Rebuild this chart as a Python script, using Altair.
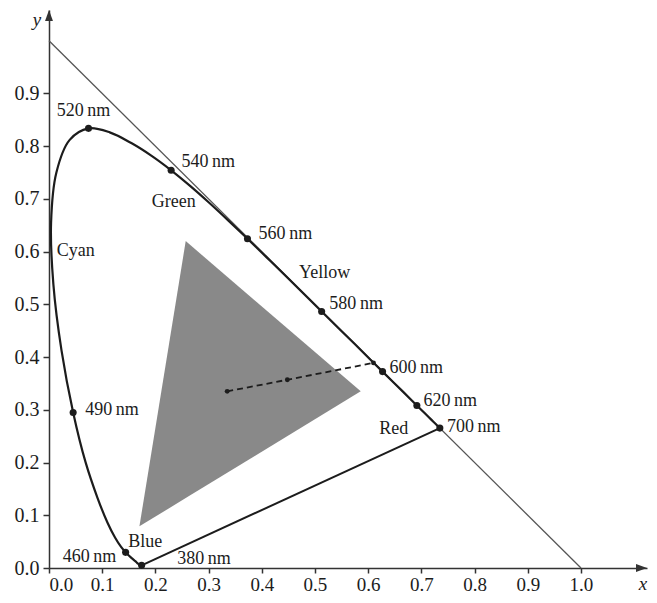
import altair as alt
import pandas as pd

# Spectral locus (wavelength nm, x, y)
wl = [380, 385, 390, 395, 400, 405, 410, 415, 420, 425, 430, 435, 440, 445, 450, 455,
      460, 465, 470, 475, 480, 485, 490, 495, 500, 505, 510, 515, 520, 525, 530, 535,
      540, 545, 550, 555, 560, 565, 570, 575, 580, 585, 590, 595, 600, 605, 610, 615,
      620, 625, 630, 635, 640, 645, 650, 655, 660, 670, 680, 690, 700]
lx = [0.1741, 0.1740, 0.1738, 0.1736, 0.1733, 0.1730, 0.1726, 0.1721, 0.1714, 0.1703,
      0.1689, 0.1669, 0.1644, 0.1611, 0.1566, 0.1510, 0.1440, 0.1355, 0.1241, 0.1096,
      0.0913, 0.0687, 0.0454, 0.0235, 0.0082, 0.0039, 0.0139, 0.0389, 0.0743, 0.1142,
      0.1547, 0.1929, 0.2296, 0.2658, 0.3016, 0.3373, 0.3731, 0.4087, 0.4441, 0.4788,
      0.5125, 0.5448, 0.5752, 0.6029, 0.6270, 0.6482, 0.6658, 0.6801, 0.6915, 0.7006,
      0.7079, 0.7140, 0.7190, 0.7230, 0.7260, 0.7283, 0.7300, 0.7320, 0.7334, 0.7344,
      0.7347]
ly = [0.0050, 0.0050, 0.0049, 0.0049, 0.0048, 0.0048, 0.0048, 0.0048, 0.0051, 0.0058,
      0.0069, 0.0086, 0.0109, 0.0138, 0.0177, 0.0227, 0.0297, 0.0399, 0.0578, 0.0868,
      0.1327, 0.2007, 0.2950, 0.4127, 0.5384, 0.6548, 0.7502, 0.8120, 0.8338, 0.8262,
      0.8059, 0.7816, 0.7543, 0.7243, 0.6923, 0.6589, 0.6245, 0.5896, 0.5547, 0.5202,
      0.4866, 0.4544, 0.4242, 0.3965, 0.3725, 0.3514, 0.3340, 0.3197, 0.3083, 0.2993,
      0.2920, 0.2859, 0.2809, 0.2770, 0.2740, 0.2717, 0.2700, 0.2680, 0.2666, 0.2656,
      0.2653]

marked_wl = [380, 460, 490, 520, 540, 560, 580, 600, 620, 700]

# x + y = 1 line
diag_x = [0.0, 1.0]
diag_y = [1.0, 0.0]

# Grey gamut triangle vertices
tri_x = [0.170, 0.257, 0.586]
tri_y = [0.079, 0.620, 0.335]

# Dashed line from white point towards locus
dash_x = [0.335, 0.448, 0.610]
dash_y = [0.335, 0.357, 0.389]

# Annotation labels
lab_text = ["520\u2009nm", "540\u2009nm", "560\u2009nm", "580\u2009nm", "600\u2009nm",
            "620\u2009nm", "700\u2009nm", "490\u2009nm", "460\u2009nm", "380\u2009nm",
            "Green", "Yellow", "Cyan", "Blue", "Red"]
lab_x = [0.0145, 0.249, 0.394, 0.527, 0.640, 0.704, 0.748, 0.068, 0.0258, 0.241,
         0.193, 0.470, 0.0145, 0.149, 0.621]
lab_y = [0.867, 0.770, 0.633, 0.501, 0.380, 0.316, 0.267, 0.299, 0.0216, 0.018,
         0.694, 0.559, 0.602, 0.049, 0.264]

x_ticks = [0.0, 0.1, 0.2, 0.3, 0.4, 0.5, 0.6, 0.7, 0.8, 0.9, 1.0]
y_ticks = [0.0, 0.1, 0.2, 0.3, 0.4, 0.5, 0.6, 0.7, 0.8, 0.9]

X_MAX = 1.1241
Y_MAX = 1.0583
FONT = "Liberation Serif"
INK = "#1c1c1c"

xs = alt.Scale(domain=[0, X_MAX], nice=False, zero=False)
ys = alt.Scale(domain=[0, Y_MAX], nice=False, zero=False)

xaxis = alt.Axis(values=x_ticks, format=".1f", title=None, grid=False,
                 domainColor="#333333", domainWidth=1.5, tickColor="#333333",
                 tickWidth=1.5, tickSize=5, labelFont=FONT, labelFontSize=19,
                 labelColor=INK, labelPadding=2)
yaxis = alt.Axis(values=y_ticks, format=".1f", title=None, grid=False,
                 domainColor="#333333", domainWidth=1.5, tickColor="#333333",
                 tickWidth=1.5, tickSize=6, labelFont=FONT, labelFontSize=20,
                 labelColor=INK, labelPadding=4)

locus_df = pd.DataFrame({"wl": wl, "x": lx, "y": ly})
lookup = dict(zip(wl, zip(lx, ly)))
marked_df = pd.DataFrame({"wl": marked_wl,
                          "x": [lookup[w][0] for w in marked_wl],
                          "y": [lookup[w][1] for w in marked_wl]})
purple_df = pd.DataFrame({"x": [lx[0], lx[-1]], "y": [ly[0], ly[-1]]})
diag_df = pd.DataFrame({"x": diag_x, "y": diag_y})

# triangle as an area: upper boundary through all vertices, lower along A->C
ax_, bx_, cx_ = tri_x
ay_, by_, cy_ = tri_y
low_b = ay_ + (cy_ - ay_) * (bx_ - ax_) / (cx_ - ax_)
tri_df = pd.DataFrame({"x": [ax_, bx_, cx_], "y": [ay_, by_, cy_], "y2": [ay_, low_b, cy_]})

dash_df = pd.DataFrame({"x": dash_x, "y": dash_y, "o": [0, 1, 2]})
lab_df = pd.DataFrame({"t": lab_text, "x": lab_x, "y": lab_y})

base_axes = alt.Chart(pd.DataFrame({"x": [0.0], "y": [0.0]})).mark_point(opacity=0).encode(
    x=alt.X("x:Q", scale=xs, axis=xaxis),
    y=alt.Y("y:Q", scale=ys, axis=yaxis),
)

tri = alt.Chart(tri_df).mark_area(color="#898989", opacity=1).encode(
    x=alt.X("x:Q", scale=xs), y=alt.Y("y:Q", scale=ys), y2="y2:Q")

diag = alt.Chart(diag_df).mark_line(color="#555555", strokeWidth=1.3).encode(
    x=alt.X("x:Q", scale=xs), y=alt.Y("y:Q", scale=ys))

locus = alt.Chart(locus_df).mark_line(color=INK, strokeWidth=2.2,
                                      interpolate="catmull-rom").encode(
    x=alt.X("x:Q", scale=xs), y=alt.Y("y:Q", scale=ys), order="wl:Q")

purple = alt.Chart(purple_df).mark_line(color=INK, strokeWidth=2).encode(
    x=alt.X("x:Q", scale=xs), y=alt.Y("y:Q", scale=ys))

dots = alt.Chart(marked_df).mark_circle(color=INK, size=50, opacity=1).encode(
    x=alt.X("x:Q", scale=xs), y=alt.Y("y:Q", scale=ys))

dash = alt.Chart(dash_df).mark_line(color=INK, strokeWidth=1.8, strokeDash=[6, 4]).encode(
    x=alt.X("x:Q", scale=xs), y=alt.Y("y:Q", scale=ys), order="o:Q")

dash_dots = alt.Chart(dash_df).mark_circle(color=INK, size=24, opacity=1).encode(
    x=alt.X("x:Q", scale=xs), y=alt.Y("y:Q", scale=ys))

labels = alt.Chart(lab_df).mark_text(align="left", baseline="middle", font=FONT,
                                     fontSize=18, color=INK).encode(
    x=alt.X("x:Q", scale=xs), y=alt.Y("y:Q", scale=ys), text="t:N")

arrow_df = pd.DataFrame({"x": [X_MAX, 0.0], "y": [0.0, Y_MAX],
                         "s": ["right", "up"]})
arrow_r = alt.Chart(arrow_df[arrow_df.s == "right"]).mark_point(
    shape="M0,0L-1,-0.36L-1,0.36Z", filled=True, color="#333333", size=484, opacity=1).encode(
    x=alt.X("x:Q", scale=xs), y=alt.Y("y:Q", scale=ys))
arrow_u = alt.Chart(arrow_df[arrow_df.s == "up"]).mark_point(
    shape="M0,0L-0.36,1L0.36,1Z", filled=True, color="#333333", size=484, opacity=1).encode(
    x=alt.X("x:Q", scale=xs), y=alt.Y("y:Q", scale=ys))

title_df = pd.DataFrame({"t": ["x", "y"], "x": [1.1165, -0.0226], "y": [-0.031, 1.040]})
titles = alt.Chart(title_df).mark_text(font=FONT, fontSize=19, fontStyle="italic",
                                       color=INK, align="center", baseline="middle").encode(
    x=alt.X("x:Q", scale=xs), y=alt.Y("y:Q", scale=ys), text="t:N")

chart = alt.layer(base_axes, tri, diag, purple, locus, dash, dash_dots, dots, labels,
                  arrow_r, arrow_u, titles).properties(
    width=598, height=558, autosize="none",
    padding={"left": 41, "top": 2, "right": 2, "bottom": 27},
    view=alt.ViewBackground(stroke="transparent", strokeOpacity=0, strokeWidth=0),
).configure_view(stroke="transparent", strokeOpacity=0, strokeWidth=0).configure(
    background="white")

chart.save("out.html", embed_options={"renderer": "svg", "actions": False})
